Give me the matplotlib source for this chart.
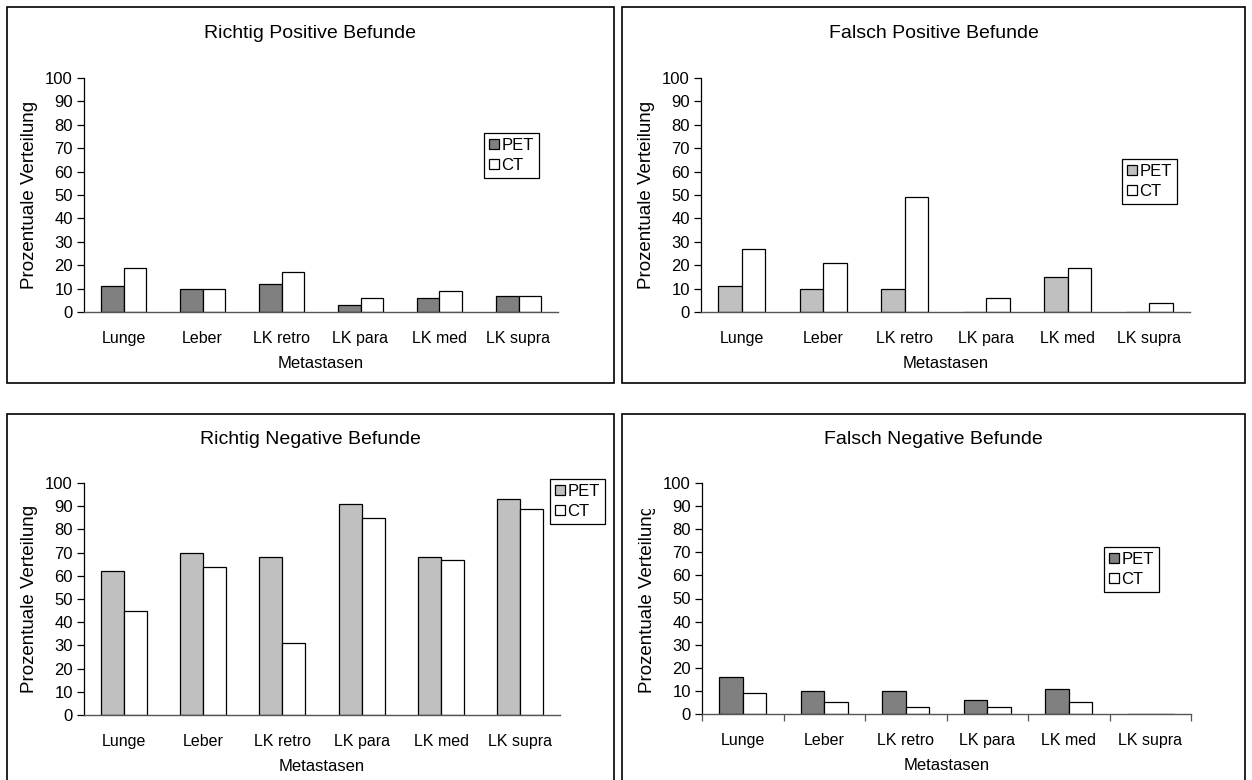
import numpy as np
import matplotlib
matplotlib.use("Agg")
import matplotlib.pyplot as plt
from matplotlib.patches import Rectangle

plt.rcParams["font.family"] = ["Liberation Sans", "DejaVu Sans"]

categories = ["Lunge", "Leber", "LK retro", "LK para", "LK med", "LK supra"]
series = ["PET", "CT"]

rp_pet = [11, 10, 12, 3, 6, 7]
rp_ct = [19, 10, 17, 6, 9, 7]
fp_pet = [11, 10, 10, 0, 15, 0]
fp_ct = [27, 21, 49, 6, 19, 4]
rn_pet = [62, 70, 68, 91, 68, 93]
rn_ct = [45, 64, 31, 85, 67, 89]
fn_pet = [16, 10, 10, 6, 11, 0]
fn_ct = [9, 5, 3, 3, 5, 0]

titles = ["Richtig Positive Befunde", "Falsch Positive Befunde",
          "Richtig Negative Befunde", "Falsch Negative Befunde"]

W, H = 1252, 780
fig = plt.figure(figsize=(W / 100, H / 100), dpi=100)


def fx(px):
    return px / W


def fy(py):
    return 1 - py / H


def panel(border, axbox, legbox, title, pet, ct, pet_color, xticks=False, clip_ylabel=None):
    # border: (x0, y0, x1, y1) in pixels from the top-left
    bx0, by0, bx1, by1 = border
    fig.patches.append(Rectangle((fx(bx0), fy(by1)), fx(bx1 - bx0), (by1 - by0) / H,
                                 transform=fig.transFigure, fill=False,
                                 edgecolor="black", linewidth=1.2))
    fig.text(fx((bx0 + bx1) / 2), fy(by0 + 26), title, ha="center", va="center", fontsize=14)

    ax0, ay0, ax1, ay1 = axbox
    ax = fig.add_axes([fx(ax0), fy(ay1), fx(ax1 - ax0), (ay1 - ay0) / H])
    x = np.arange(len(categories))
    w = 0.29
    ax.bar(x - w / 2, pet, w, color=pet_color, edgecolor="black", linewidth=0.9, label=series[0])
    ax.bar(x + w / 2, ct, w, color="white", edgecolor="black", linewidth=0.9, label=series[1])
    ax.set_xlim(-0.5, len(categories) - 0.5)
    ax.set_ylim(0, 100)
    ax.set_yticks(range(0, 101, 10))
    ax.tick_params(axis="y", length=5, width=0.9, labelsize=12, pad=3)
    ax.set_xticks(x)
    ax.set_xticklabels(categories)
    ax.tick_params(axis="x", length=0, labelsize=11.5, pad=14)
    if xticks:
        ax.set_xticks(np.arange(-0.5, len(categories), 1), minor=True)
        ax.tick_params(axis="x", which="minor", length=5, width=0.9, color="#555555")
    for s in ["top", "right"]:
        ax.spines[s].set_visible(False)
    ax.spines["left"].set_linewidth(0.9)
    ax.spines["bottom"].set_linewidth(1.0)
    ax.spines["bottom"].set_color("#555555")
    ax.set_xlabel("Metastasen", fontsize=12, labelpad=7)
    ax.set_ylabel("Prozentuale Verteilung", fontsize=13.5, labelpad=5)
    if clip_ylabel is not None:
        cx0, cy0, cx1, cy1 = clip_ylabel
        cr = Rectangle((fx(cx0), fy(cy1)), fx(cx1 - cx0), (cy1 - cy0) / H,
                       transform=fig.transFigure, visible=False)
        fig.patches.append(cr)
        ax.yaxis.label.set_clip_path(cr)

    lx0, ly0, lx1, ly1 = legbox
    leg = ax.legend(loc="upper left", bbox_to_anchor=(fx(lx0), fy(ly0)),
                    bbox_transform=fig.transFigure, fontsize=12, frameon=True,
                    fancybox=False, edgecolor="black", framealpha=1,
                    handlelength=0.6, handleheight=0.6, handletextpad=0.15,
                    borderpad=0.3, labelspacing=0.3, borderaxespad=0)
    leg.get_frame().set_linewidth(0.9)
    return ax


panel((7, 7, 614, 383), (84, 78, 558, 312), (484, 133, 542, 179),
      titles[0], rp_pet, rp_ct, "#808080")
panel((622, 7, 1245, 383), (701, 78, 1190, 312), (1122, 159, 1180, 205),
      titles[1], fp_pet, fp_ct, "#c0c0c0")
panel((7, 414, 614, 790), (84, 483, 560, 715), (550, 479, 607, 524),
      titles[2], rn_pet, rn_ct, "#c0c0c0")
panel((622, 414, 1245, 790), (702, 483, 1191, 714), (1104, 547, 1162, 592),
      titles[3], fn_pet, fn_ct, "#808080", xticks=True, clip_ylabel=(622, 509, 700, 780))

fig.savefig("out.png", dpi=100, facecolor="white")
